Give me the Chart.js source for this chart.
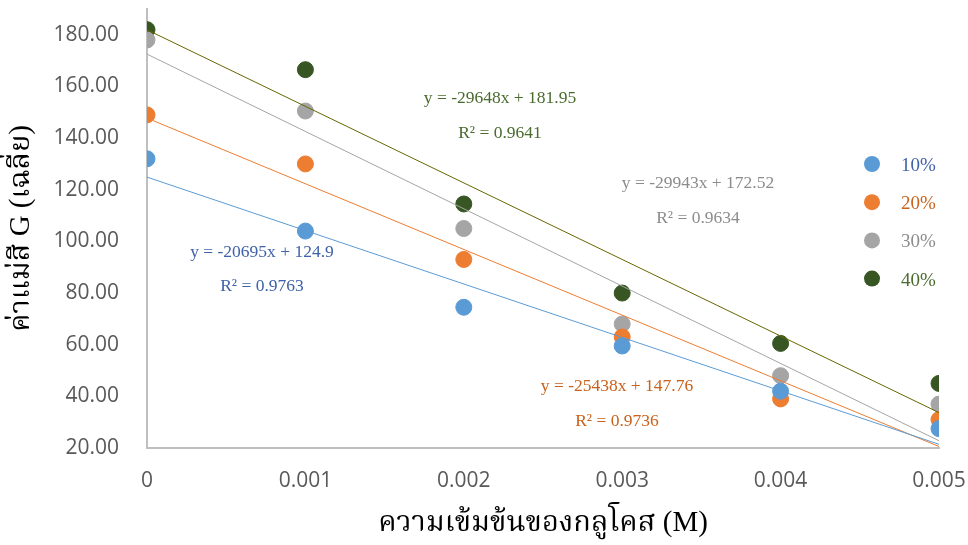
<!DOCTYPE html>
<html><head><meta charset="utf-8">
<script src="https://cdn.jsdelivr.net/npm/chart.js@4.4.1/dist/chart.umd.min.js"></script>
<style>html,body{margin:0;padding:0;background:#fff}#wrap{width:968px;height:545px}</style>
</head><body><div id="wrap"><canvas id="c" width="968" height="545"></canvas></div>
<script>
const concentrations = [0, 0.001, 0.002, 0.003, 0.004, 0.005];
const seriesNames = ['10%', '20%', '30%', '40%'];
const values10 = [132, 104, 74.5, 59.5, 42, 27.5];
const values20 = [149, 130, 93, 63, 39, 31];
const values30 = [178, 150.5, 105, 68, 48, 37];
const values40 = [182, 166.5, 114.5, 80, 60.5, 45];
const slopes = [-20695, -25438, -29943, -29648];
const intercepts = [124.9, 147.76, 172.52, 181.95];
const r2Values = ['0.9763', '0.9736', '0.9634', '0.9641'];
const yTickValues = [20, 40, 60, 80, 100, 120, 140, 160, 180];

const pointColors = ['#5B9BD5', '#ED7D31', '#A5A5A5', '#375623'];
const lineColors = ['#5B9BD5', '#ED7D31', '#A5A5A5', '#666600'];
const textColors = ['#3F62A8', '#C9621C', '#8C8C8C', '#4A6B2E'];
const allValues = [values10, values20, values30, values40];
// equation label placements (pixel centres)
const eqPos = [[262, 252, 286], [617, 386, 421], [698, 183, 218], [500, 98, 133]];

const datasets = [];
seriesNames.forEach((n, i) => {
  const x0 = concentrations[0], x1 = concentrations[concentrations.length - 1];
  datasets.push({
    type: 'line', label: n + ' trend', order: 0,
    data: [{x: x0, y: slopes[i] * x0 + intercepts[i]}, {x: x1, y: slopes[i] * x1 + intercepts[i]}],
    borderColor: lineColors[i], borderWidth: 1, pointRadius: 0, fill: false, tension: 0
  });
});
seriesNames.forEach((n, i) => {
  datasets.push({
    type: 'scatter', label: n, order: 1,
    data: concentrations.map((x, j) => ({x: x, y: allValues[i][j]})),
    backgroundColor: pointColors[i], borderColor: pointColors[i], pointRadius: 8, pointHoverRadius: 8
  });
});

const serif = "'Liberation Serif', 'Noto Serif Thai', 'Noto Sans Thai', 'Times New Roman', serif";
const overlay = {
  id: 'overlay',
  afterDatasetsDraw(chart) {
    const ctx = chart.ctx;
    ctx.save();
    ctx.textAlign = 'center'; ctx.textBaseline = 'middle';
    ctx.font = '17.5px ' + serif;
    seriesNames.forEach((n, i) => {
      const p = eqPos[i];
      ctx.fillStyle = textColors[i];
      ctx.fillText('y = ' + slopes[i] + 'x + ' + intercepts[i], p[0], p[1]);
      ctx.fillText('R² = ' + r2Values[i], p[0], p[2]);
    });
    // legend
    ctx.textAlign = 'left';
    ctx.font = '19px ' + serif;
    seriesNames.forEach((n, i) => {
      const y = 164 + i * 38.2;
      ctx.fillStyle = pointColors[i];
      ctx.beginPath(); ctx.arc(872, y, 8, 0, Math.PI * 2); ctx.fill();
      ctx.fillStyle = textColors[i];
      ctx.fillText(n, 901, y + 2);
    });
    ctx.restore();
  }
};

new Chart(document.getElementById('c'), {
  data: {datasets},
  plugins: [overlay],
  options: {
    responsive: false, animation: false,
    layout: {padding: {top: 5, right: 29, left: 0, bottom: 0}},
    plugins: {legend: {display: false}, tooltip: {enabled: false}},
    scales: {
      x: {
        type: 'linear', min: 0, max: 0.005,
        grid: {display: false},
        border: {display: true, color: '#BFBFBF', width: 2},
        ticks: {stepSize: 0.001, color: '#595959', font: {family: "'Open Sans', sans-serif", size: 21}, padding: 12,
          callback: v => String(Number(v.toFixed(3)))},
        title: {display: true, text: 'ความเข้มข้นของกลูโคส (M)', color: '#000', font: {family: serif, size: 29}, padding: {top: 10}},
        afterFit: s => { s.height = 97; s.paddingLeft = 0; s.paddingRight = 0; }
      },
      y: {
        type: 'linear', min: 20, max: 190,
        grid: {display: false},
        border: {display: true, color: '#BFBFBF', width: 2},
        afterBuildTicks: s => { s.ticks = yTickValues.map(v => ({value: v})); },
        ticks: {color: '#595959', font: {family: "'Open Sans', sans-serif", size: 21}, padding: 20,
          callback: v => Number(v).toFixed(2)},
        title: {display: true, text: 'ค่าแม่สี G (เฉลี่ย)', color: '#000', font: {family: serif, size: 29}, padding: {bottom: 4}},
        afterFit: s => { s.width = 147; s.paddingTop = 0; s.paddingBottom = 0; }
      }
    }
  }
});
</script></body></html>
